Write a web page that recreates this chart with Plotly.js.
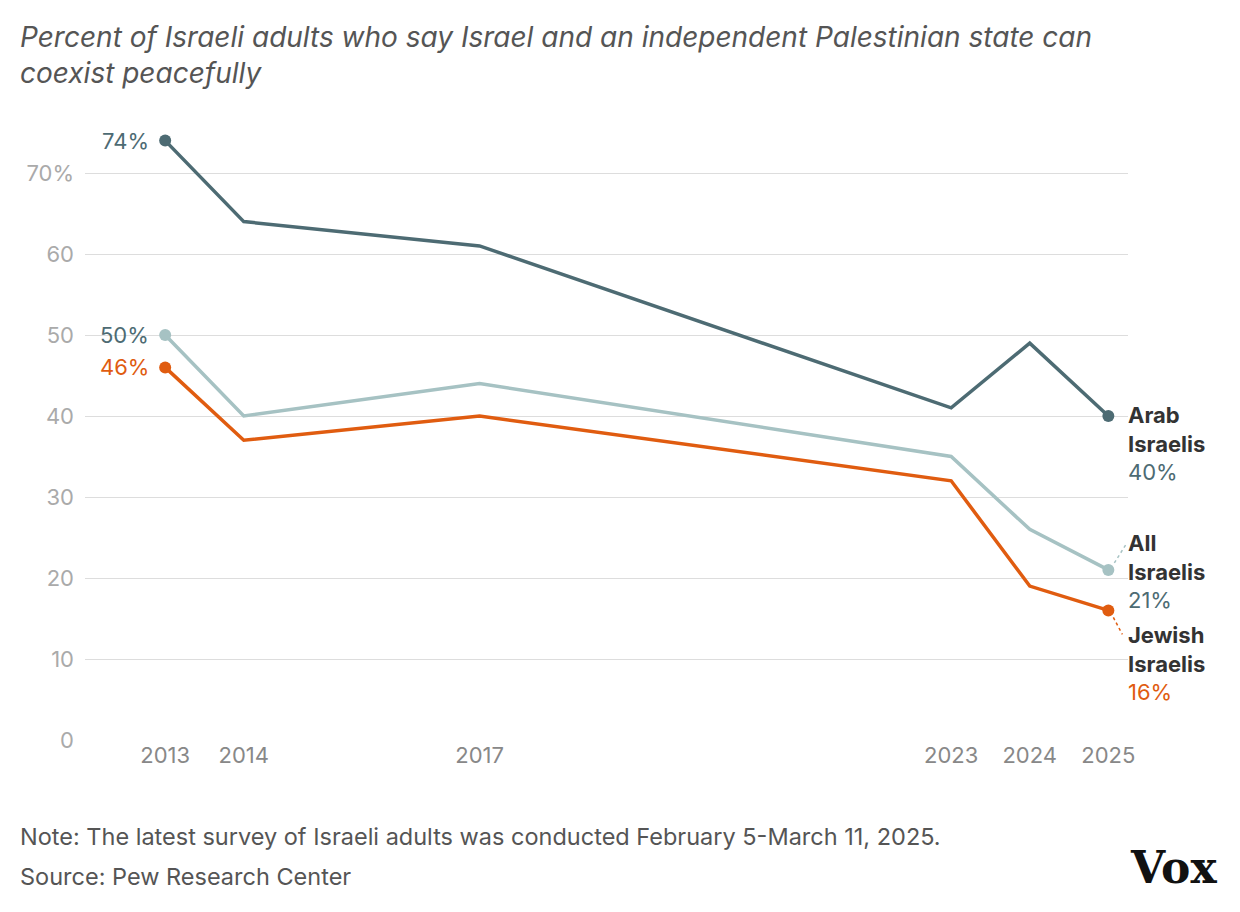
<!DOCTYPE html>
<html>
<head>
<meta charset="utf-8">
<script src="https://cdn.plot.ly/plotly-3.0.1.min.js"></script>
<style>body{margin:0;background:#fff}#chart{width:1240px;height:912px}</style>
</head>
<body>
<div id="chart"></div>
<script>
var years = [2013, 2014, 2017, 2023, 2024, 2025];
var arab = [74, 64, 61, 41, 49, 40];
var all = [50, 40, 44, 35, 26, 21];
var jewish = [46, 37, 40, 32, 19, 16];
var yTicks = [0, 10, 20, 30, 40, 50, 60, 70];
var yTickText = ['0', '10', '20', '30', '40', '50', '60', '70%'];

var cArab = '#4d6b73', cAll = '#a6c2c3', cJew = '#e05c10';
var font = 'Inter, "Noto Sans", sans-serif';

function series(y, color) {
    var n = y.length;
    return {
        x: years, y: y, type: 'scatter', mode: 'lines+markers',
        line: {color: color, width: 3.5},
        marker: {color: color, opacity: 1, line: {width: 0},
            size: y.map(function(v, i) { return (i === 0 || i === n - 1) ? 12 : 0; })},
        hoverinfo: 'none'
    };
}

var data = [series(all, cAll), series(jewish, cJew), series(arab, cArab)];

var last = years.length - 1;
var annotations = [
    {x: years[0], y: arab[0], text: arab[0] + '%', xanchor: 'right', xshift: -14, font: {color: cArab}},
    {x: years[0], y: all[0], text: all[0] + '%', xanchor: 'right', xshift: -14, font: {color: cArab}},
    {x: years[0], y: jewish[0], text: jewish[0] + '%', xanchor: 'right', xshift: -14, font: {color: cJew}},
    {x: years[last], y: arab[last], xanchor: 'left', yanchor: 'top', xshift: 18, yshift: 16, align: 'left',
        text: '<b>Arab<br>Israelis</b><br><span style="color:' + cArab + '">' + arab[last] + '%</span>', font: {color: '#333'}},
    {x: years[last], y: all[last], xanchor: 'left', yanchor: 'top', xshift: 18, yshift: 42, align: 'left',
        text: '<b>All<br>Israelis</b><br><span style="color:' + cArab + '">' + all[last] + '%</span>', font: {color: '#333'}},
    {x: years[last], y: jewish[last], xanchor: 'left', yanchor: 'top', xshift: 18, yshift: -10, align: 'left',
        text: '<b>Jewish<br>Israelis</b><br><span style="color:' + cJew + '">' + jewish[last] + '%</span>', font: {color: '#333'}}
];
annotations.forEach(function(a) { a.showarrow = false; a.font.size = 22; a.font.family = font; });

annotations.push(
    {xref: 'paper', yref: 'paper', x: -0.064, y: 1.0, yshift: 0, xanchor: 'left', yanchor: 'bottom', align: 'left', showarrow: false,
        text: '<i>Percent of Israeli adults who say Israel and an independent Palestinian state can<br>coexist peacefully</i>',
        font: {family: font, size: 28, color: '#555'}},
    {xref: 'paper', yref: 'paper', x: -0.064, y: 0, yshift: -80, xanchor: 'left', yanchor: 'top', align: 'left', showarrow: false,
        text: 'Note: The latest survey of Israeli adults was conducted February 5-March 11, 2025.',
        font: {family: font, size: 23.5, color: '#555'}},
    {xref: 'paper', yref: 'paper', x: -0.064, y: 0, yshift: -120, xanchor: 'left', yanchor: 'top', align: 'left', showarrow: false,
        text: 'Source: Pew Research Center',
        font: {family: font, size: 23.5, color: '#555'}},
    {xref: 'paper', yref: 'paper', x: 1.087, y: 0, yshift: -100, xanchor: 'right', yanchor: 'top', showarrow: false,
        text: '<b>Vox</b>', font: {family: '"DejaVu Serif", serif', size: 44, color: '#111'}}
);

var shapes = [
    {type: 'line', xsizemode: 'pixel', ysizemode: 'pixel', xanchor: years[last], yanchor: all[last],
        x0: 6, y0: 7, x1: 18, y1: 26, line: {color: cAll, width: 1.5, dash: 'dot'}},
    {type: 'line', xsizemode: 'pixel', ysizemode: 'pixel', xanchor: years[last], yanchor: jewish[last],
        x0: 5, y0: -7, x1: 14, y1: -24, line: {color: cJew, width: 1.5, dash: 'dot'}}
];

var layout = {
    width: 1240, height: 912,
    margin: {l: 85, r: 112, t: 92, b: 172},
    paper_bgcolor: '#fff', plot_bgcolor: '#fff',
    showlegend: false,
    font: {family: font, size: 22, color: '#999'},
    xaxis: {range: [2011.98, 2025.25], tickvals: years, showgrid: false, zeroline: false, showline: false, ticks: '',
        tickfont: {size: 22, color: '#888'}, fixedrange: true},
    yaxis: {range: [0, 80], tickvals: yTicks, ticktext: yTickText, gridcolor: '#ddd', gridwidth: 1, zeroline: false,
        showline: false, ticks: '', ticklabelstandoff: 10, tickfont: {size: 22, color: '#aaa'}, fixedrange: true},
    annotations: annotations,
    shapes: shapes
};

Plotly.newPlot('chart', data, layout, {displayModeBar: false, staticPlot: true});
</script>
</body>
</html>
